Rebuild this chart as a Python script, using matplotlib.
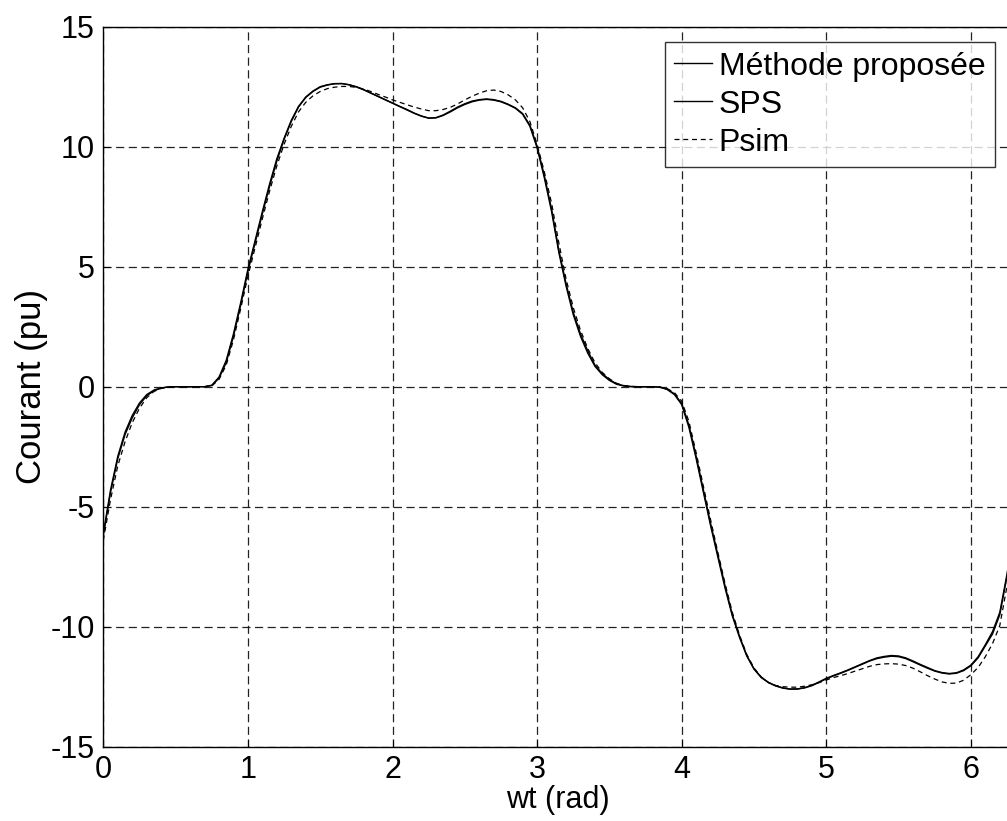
import matplotlib
matplotlib.use('Agg')
import matplotlib.pyplot as plt
import numpy as np

plt.rcParams['font.family'] = ['Liberation Sans', 'DejaVu Sans']
plt.rcParams['axes.unicode_minus'] = False

# wt (rad) sample points
wt = [0.00, 0.05, 0.10, 0.15, 0.20, 0.25, 0.30, 0.35, 0.40, 0.45,
      0.50, 0.55, 0.60, 0.65, 0.70, 0.75, 0.80, 0.85, 0.90, 0.95,
      1.00, 1.05, 1.10, 1.15, 1.20, 1.25, 1.30, 1.35, 1.40, 1.45,
      1.50, 1.55, 1.60, 1.65, 1.70, 1.75, 1.80, 1.85, 1.90, 1.95,
      2.00, 2.05, 2.10, 2.15, 2.20, 2.25, 2.30, 2.35, 2.40, 2.45,
      2.50, 2.55, 2.60, 2.65, 2.70, 2.75, 2.80, 2.85, 2.90, 2.95,
      3.00, 3.05, 3.10, 3.15, 3.20, 3.25, 3.30, 3.35, 3.40, 3.45,
      3.50, 3.55, 3.60, 3.65, 3.70, 3.75, 3.80, 3.85, 3.90, 3.95,
      4.00, 4.05, 4.10, 4.15, 4.20, 4.25, 4.30, 4.35, 4.40, 4.45,
      4.50, 4.55, 4.60, 4.65, 4.70, 4.75, 4.80, 4.85, 4.90, 4.95,
      5.00, 5.05, 5.10, 5.15, 5.20, 5.25, 5.30, 5.35, 5.40, 5.45,
      5.50, 5.55, 5.60, 5.65, 5.70, 5.75, 5.80, 5.85, 5.90, 5.95,
      6.00, 6.05, 6.10, 6.15, 6.20, 6.25, 6.2832]

# Methode proposee
i_methode = [-6.2, -4.4, -3.0, -2.0, -1.3, -0.75, -0.38, -0.17, -0.06, -0.01,
             0.0, 0.0, 0.0, 0.0, 0.0, 0.05, 0.35, 1.0, 2.1, 3.4,
             4.8, 6.0, 7.2, 8.35, 9.4, 10.3, 11.05, 11.65, 12.05, 12.3,
             12.48, 12.57, 12.62, 12.63, 12.58, 12.5, 12.38, 12.24, 12.1, 11.96,
             11.82, 11.68, 11.55, 11.4, 11.28, 11.19, 11.2, 11.3, 11.45, 11.62,
             11.76, 11.87, 11.94, 11.97, 11.94, 11.87, 11.75, 11.6, 11.35, 10.85,
             9.95, 8.7, 7.3, 5.6, 4.2, 3.0, 2.1, 1.4, 0.85, 0.5,
             0.26, 0.1, 0.03, 0.0, 0.0, 0.0, 0.0, -0.02, -0.1, -0.3,
             -0.7, -1.6, -2.9, -4.3, -5.7, -7.0, -8.3, -9.5, -10.4, -11.2,
             -11.75, -12.1, -12.32, -12.46, -12.55, -12.6, -12.6, -12.55, -12.46, -12.32,
             -12.17, -12.05, -11.94, -11.82, -11.69, -11.56, -11.43, -11.33, -11.27, -11.23,
             -11.25, -11.33, -11.46, -11.6, -11.73, -11.85, -11.93, -11.97, -11.94, -11.83,
             -11.63, -11.3, -10.8, -10.3, -9.5, -7.9, -6.6]

# SPS
i_sps = [-6.1, -4.3, -2.9, -1.9, -1.2, -0.68, -0.33, -0.14, -0.05, -0.01,
         0.0, 0.0, 0.0, 0.0, 0.0, 0.06, 0.4, 1.1, 2.2, 3.5,
         4.9, 6.1, 7.3, 8.45, 9.5, 10.35, 11.1, 11.68, 12.07, 12.32,
         12.5, 12.58, 12.63, 12.63, 12.58, 12.49, 12.37, 12.23, 12.09, 11.95,
         11.81, 11.67, 11.53, 11.39, 11.27, 11.19, 11.21, 11.32, 11.48, 11.65,
         11.79, 11.9, 11.96, 11.99, 11.96, 11.89, 11.77, 11.62, 11.38, 10.9,
         10.02, 8.8, 7.4, 5.7, 4.3, 3.1, 2.2, 1.5, 0.9, 0.55,
         0.3, 0.12, 0.04, 0.01, 0.0, 0.0, 0.0, -0.02, -0.12, -0.33,
         -0.75, -1.7, -3.0, -4.4, -5.8, -7.1, -8.4, -9.55, -10.45, -11.22,
         -11.77, -12.12, -12.33, -12.47, -12.56, -12.6, -12.59, -12.54, -12.44, -12.3,
         -12.15, -12.03, -11.92, -11.8, -11.67, -11.54, -11.41, -11.3, -11.24, -11.2,
         -11.22, -11.3, -11.43, -11.57, -11.7, -11.83, -11.91, -11.95, -11.92, -11.8,
         -11.6, -11.25, -10.75, -10.2, -9.4, -7.8, -6.5]

# Psim
i_psim = [-6.4, -4.7, -3.3, -2.3, -1.5, -0.9, -0.46, -0.2, -0.07, -0.02,
          0.0, 0.0, 0.0, 0.0, 0.0, 0.03, 0.3, 0.9, 1.95, 3.25,
          4.6, 5.8, 7.0, 8.15, 9.2, 10.1, 10.85, 11.45, 11.85, 12.12,
          12.3, 12.42, 12.48, 12.51, 12.51, 12.47, 12.4, 12.3, 12.18, 12.07,
          11.95, 11.85, 11.75, 11.65, 11.57, 11.5, 11.5, 11.55, 11.64, 11.78,
          11.95, 12.1, 12.23, 12.33, 12.36, 12.3, 12.16, 11.95, 11.62, 11.05,
          10.1, 8.95, 7.65, 6.0, 4.5, 3.3, 2.35, 1.6, 1.0, 0.6,
          0.33, 0.14, 0.05, 0.01, 0.0, 0.0, 0.0, -0.02, -0.08, -0.25,
          -0.6, -1.45, -2.75, -4.15, -5.55, -6.9, -8.2, -9.4, -10.35, -11.15,
          -11.72, -12.1, -12.33, -12.45, -12.5, -12.52, -12.52, -12.48, -12.42, -12.33,
          -12.22, -12.12, -12.04, -11.95, -11.85, -11.75, -11.65, -11.58, -11.55, -11.54,
          -11.56, -11.62, -11.73, -11.88, -12.04, -12.18, -12.3, -12.36, -12.35, -12.23,
          -12.0, -11.7, -11.25, -10.7, -9.95, -8.3, -6.9]

xticks = [0, 1, 2, 3, 4, 5, 6]
yticks = [-15, -10, -5, 0, 5, 10, 15]

fig = plt.figure(figsize=(10.07, 8.21), dpi=100)
ax = fig.add_axes([0.1026, 0.0905, 0.9022, 0.8770])

ax.plot(wt, i_methode, color='black', lw=1.0, label='Méthode proposée')
ax.plot(wt, i_sps, color='black', lw=1.0, label='SPS')
ax.plot(wt, i_psim, color='black', lw=0.9, dashes=(4, 3), label='Psim')

ax.set_xlim(0, 2 * np.pi)
ax.set_ylim(-15, 15)
ax.set_xticks(xticks)
ax.set_yticks(yticks)
ax.tick_params(direction='in', length=5, labelsize=22, pad=6)
ax.grid(True, color='#222222', lw=0.9, dashes=(6.5, 3.6))

for s in ax.spines.values():
    s.set_linewidth(1.0)

ax.set_xlabel('wt (rad)', fontsize=22, labelpad=0)
ax.set_ylabel('Courant (pu)', fontsize=25, labelpad=2)

leg = ax.legend(loc='upper right', bbox_to_anchor=(0.9815, 0.9788), borderaxespad=0,
                fontsize=23, frameon=True, fancybox=False, edgecolor='black',
                handlelength=1.2, handletextpad=0.2, labelspacing=0.25,
                borderpad=0.3)
leg.get_frame().set_linewidth(1.0)

plt.savefig('out.png', dpi=100)
